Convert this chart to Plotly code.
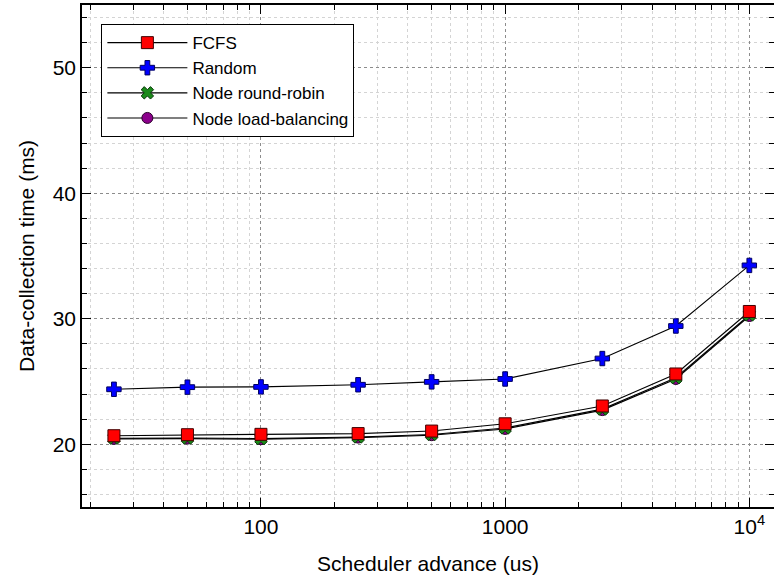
import plotly.graph_objects as go

# Scheduler advance (us)
advance = [25, 50, 100, 250, 500, 1000, 2500, 5000, 10000]

# Data-collection time (ms) per scheduling policy
fcfs = [20.68, 20.76, 20.79, 20.85, 21.05, 21.63, 23.05, 25.60, 30.58]
random_sched = [24.38, 24.55, 24.57, 24.74, 24.97, 25.20, 26.83, 29.42, 34.25]
node_rr = [20.48, 20.50, 20.45, 20.58, 20.78, 21.30, 22.80, 25.30, 30.30]
node_lb = [20.43, 20.45, 20.40, 20.53, 20.72, 21.22, 22.72, 25.20, 30.22]

x_major = [100, 1000, 10000]
x_major_text = ["100", "1000", "10<sup>4</sup>"]
x_minor = [m * d for d in (10, 100, 1000) for m in range(2, 10)]
y_major = [20, 30, 40, 50]
y_minor = [v for v in range(16, 55, 2) if v % 10 != 0]

FONT = "Liberation Sans, Arial, sans-serif"

series = [
    # name, values, symbol, fill, outline, size, legend rank
    ("Node load-balancing", node_lb, "circle", "#8b008b", "#2a002a", 11, 4),
    ("Node round-robin", node_rr, "x", "#1a8a1a", "#0a3a0a", 11, 3),
    ("Random", random_sched, "cross", "#0000ff", "#000060", 12, 2),
    ("FCFS", fcfs, "square", "#ff0000", "#400000", 12, 1),
]

fig = go.Figure()
for name, vals, sym, fill, edge, size, rank in series:
    fig.add_trace(go.Scatter(
        x=advance, y=vals, name=name, mode="lines+markers",
        line=dict(color="black", width=1.1),
        marker=dict(symbol=sym, color=fill, size=size,
                    line=dict(color=edge, width=1)),
        legendrank=rank,
    ))

grid_major = "#8c8c8c"
grid_minor = "#d4d4d4"

common_x = dict(
    type="log", range=[1.2672, 4.101],
    tickvals=x_major, ticks="inside", ticklen=9, tickwidth=1.2, tickcolor="black",
    showline=True, linecolor="black", linewidth=1.5,
    minor=dict(tickvals=x_minor, ticks="inside", ticklen=5, tickcolor="black",
               tickwidth=1, showgrid=True, gridcolor=grid_minor, griddash="dot",
               gridwidth=1),
    zeroline=False,
)
common_y = dict(
    range=[15, 55],
    tickvals=y_major, ticks="inside", ticklen=9, tickwidth=1.2, tickcolor="black",
    showline=True, linecolor="black", linewidth=1.5,
    minor=dict(tickvals=y_minor, ticks="inside", ticklen=5, tickcolor="black",
               tickwidth=1, showgrid=True, gridcolor=grid_minor, griddash="dot",
               gridwidth=1),
    zeroline=False,
)

fig.update_layout(
    width=774, height=579,
    margin=dict(l=82, r=0, t=5, b=72),
    paper_bgcolor="white", plot_bgcolor="white",
    font=dict(family=FONT, size=21, color="black"),
    showlegend=True,
    legend=dict(
        x=0.028, y=0.962, xanchor="left", yanchor="top",
        bgcolor="white", bordercolor="black", borderwidth=1,
        font=dict(family=FONT, size=17, color="black"),
        tracegroupgap=0, itemwidth=80,
    ),
    xaxis=dict(
        **common_x,
        ticktext=x_major_text, showgrid=True, gridcolor=grid_major,
        griddash="dot", gridwidth=1,
        title=dict(text="Scheduler advance (us)", standoff=19,
                   font=dict(family=FONT, size=21)),
        tickfont=dict(family=FONT, size=21),
    ),
    yaxis=dict(
        **common_y,
        showgrid=True, gridcolor=grid_major, griddash="dot", gridwidth=1,
        title=dict(text="Data-collection time (ms)", standoff=12,
                   font=dict(family=FONT, size=21)),
        tickfont=dict(family=FONT, size=21),
    ),
    # mirrored frame on top and right with inward ticks
    xaxis2=dict(**common_x, overlaying="x", side="top", showticklabels=False,
                showgrid=False, matches="x"),
    yaxis2=dict(**common_y, overlaying="y", side="right", showticklabels=False,
                showgrid=False, matches="y"),
)
fig.update_layout(xaxis2_minor_showgrid=False, yaxis2_minor_showgrid=False)

# invisible trace so the mirrored axes are drawn
fig.add_trace(go.Scatter(x=[advance[0]], y=[fcfs[0]], xaxis="x2", yaxis="y2",
                         mode="markers", marker=dict(opacity=0),
                         showlegend=False, hoverinfo="skip"))

fig.write_html("out.html")
